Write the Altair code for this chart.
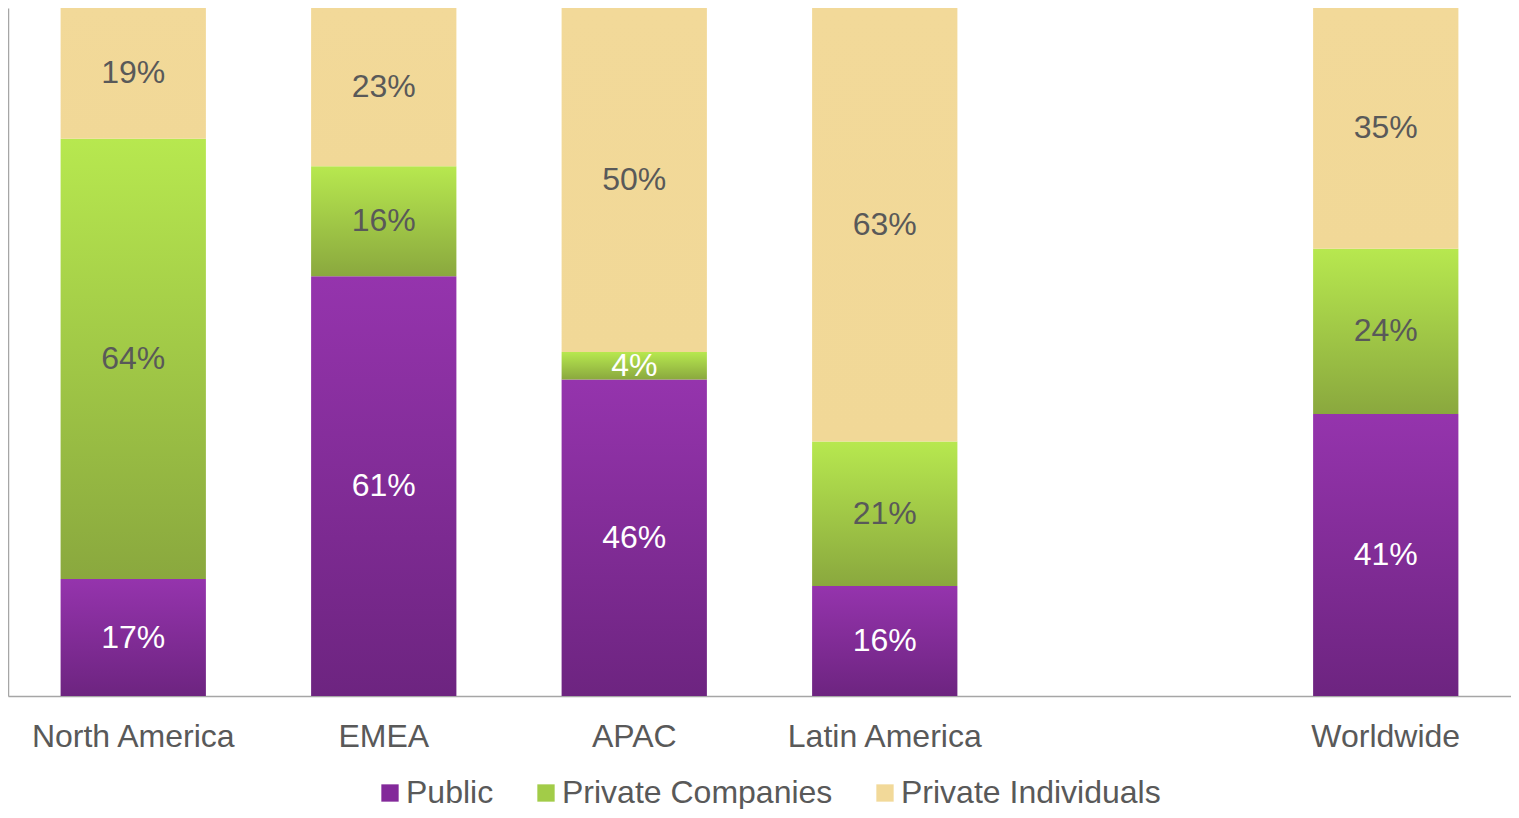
import altair as alt
import pandas as pd

regions = ["North America", "EMEA", "APAC", "Latin America", "Worldwide"]
series = ["Public", "Private Companies", "Private Individuals"]
public = [17, 61, 46, 16, 41]
private_companies = [64, 16, 4, 21, 24]
private_individuals = [19, 23, 50, 63, 35]

rows = []
for i, r in enumerate(regions):
    for k, (s, vals) in enumerate(zip(series, [public, private_companies, private_individuals])):
        rows.append(dict(region=r, series=s, order=k, value=vals[i]))
df = pd.DataFrame(rows)

x_domain = regions[:4] + [" "] + regions[4:]
FONT = "Liberation Sans"
GRAY = "#595959"
FS = 32

grad_public = alt.Gradient(
    gradient="linear", x1=0, x2=0, y1=0, y2=1,
    stops=[alt.GradientStop(color="#9534ad", offset=0),
           alt.GradientStop(color="#6d2480", offset=1)])
grad_pc = alt.Gradient(
    gradient="linear", x1=0, x2=0, y1=0, y2=1,
    stops=[alt.GradientStop(color="#b7e84f", offset=0),
           alt.GradientStop(color="#8aa83e", offset=1)])
grad_pi = alt.Gradient(
    gradient="linear", x1=0, x2=0, y1=0, y2=1,
    stops=[alt.GradientStop(color="#f2d999", offset=0),
           alt.GradientStop(color="#f1d897", offset=1)])
grads = [grad_public, grad_pc, grad_pi]

base = alt.Chart(df).transform_stack(
    stack="value", groupby=["region"], as_=["v0", "v1"],
    sort=[alt.SortField("order", order="ascending")]
).transform_calculate(
    mid="(datum.v0 + datum.v1) / 2",
    label="datum.value + '%'"
)

xenc = alt.X(
    "region:N",
    scale=alt.Scale(domain=x_domain, paddingInner=0.42, paddingOuter=0.21),
    axis=alt.Axis(title=None, ticks=False, labelFontSize=FS, labelColor=GRAY,
                  labelPadding=25, domainColor="#a6a6a6", domainWidth=1.5,
                  labelAngle=0, labelFont=FONT, grid=False, labelLimit=0),
)
yscale = alt.Scale(domain=[0, 100], nice=False)
yaxis = alt.Axis(title=None, labels=False, ticks=False, grid=False,
                 domainColor="#a6a6a6", domainWidth=1.5)

layers = []
for s, g in zip(series, grads):
    layers.append(
        base.transform_filter(alt.datum.series == s)
        .mark_bar(color=g)
        .encode(x=xenc, y=alt.Y("v0:Q", scale=yscale, axis=yaxis), y2="v1:Q")
    )

text = base.mark_text(fontSize=FS, font=FONT).encode(
    x=xenc,
    y=alt.Y("mid:Q", scale=yscale, axis=yaxis),
    text="label:N",
    color=alt.condition("datum.series == 'Public' || datum.value < 10",
                        alt.value("white"), alt.value(GRAY)),
)

legend_layer = base.transform_filter("datum.value < 0").mark_square(opacity=1).encode(
    color=alt.Color(
        "series:N",
        scale=alt.Scale(domain=series, range=["#83299a", "#a2cc48", "#f2d999"]),
        legend=alt.Legend(
            title=None, orient="none", legendX=366, legendY=769,
            direction="horizontal", symbolType="square", symbolSize=300,
            labelFontSize=FS, labelColor=GRAY, labelFont=FONT,
            columnPadding=36, labelOffset=0, symbolStrokeWidth=0,
            symbolOpacity=1, labelLimit=0,
        ),
    )
)

chart = alt.layer(*layers, text, legend_layer).properties(
    width=1503, height=688, padding=0
).configure_view(stroke=None)

chart.save("out.html", embed_options={"renderer": "svg", "actions": False})
